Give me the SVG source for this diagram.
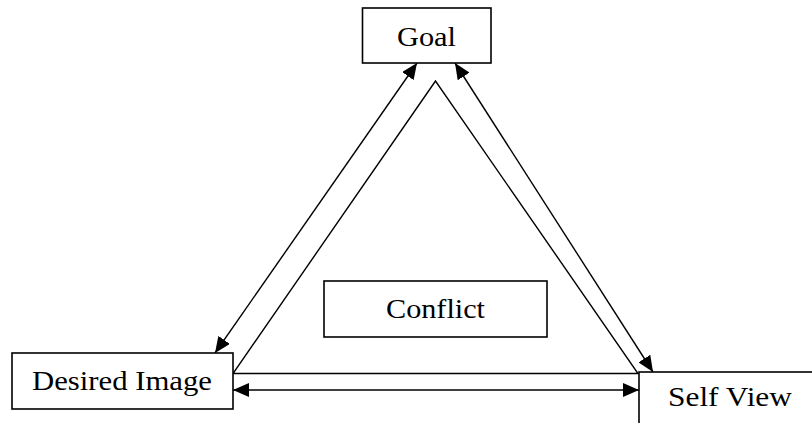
<svg xmlns="http://www.w3.org/2000/svg" width="812" height="423" viewBox="0 0 812 423">
  <defs>
    <marker id="ah" markerUnits="userSpaceOnUse" markerWidth="17" markerHeight="14" refX="16" refY="7" orient="auto-start-reverse">
      <path d="M0,0 L16,7 L0,14 z" fill="#000"/>
    </marker>
    <style>
      .box { fill: #fff; stroke: #000; stroke-width: 1.6; }
      .lbl { font-family: "Liberation Serif", "Times New Roman", serif; font-size: 28px; fill: #000; text-anchor: middle; }
      .ln { stroke: #000; stroke-width: 1.4; fill: none; }
      .arr { stroke: #000; stroke-width: 1.4; fill: none; marker-start: url(#ah); marker-end: url(#ah); }
    </style>
  </defs>
  <rect width="812" height="423" fill="#fff"/>
  <g id="connectors">
    <polygon class="ln" points="435.5,81 233,373.5 638,373.5"/>
    <line class="arr" x1="417" y1="63" x2="215" y2="353"/>
    <line class="arr" x1="455" y1="63" x2="653" y2="372"/>
    <line class="arr" x1="233" y1="390" x2="639" y2="390"/>
  </g>
  <g id="goal">
    <rect class="box" x="362.5" y="8" width="128.5" height="55"/>
    <text class="lbl" x="426.5" y="46" textLength="59" lengthAdjust="spacingAndGlyphs">Goal</text>
  </g>
  <g id="conflict">
    <rect class="box" x="324" y="281" width="223" height="56"/>
    <text class="lbl" x="435.5" y="318" textLength="99" lengthAdjust="spacingAndGlyphs">Conflict</text>
  </g>
  <g id="desired-image">
    <rect class="box" x="12" y="353" width="221" height="56"/>
    <text class="lbl" x="122" y="390" textLength="180" lengthAdjust="spacingAndGlyphs">Desired Image</text>
  </g>
  <g id="self-view">
    <rect class="box" x="639" y="372" width="190" height="60"/>
    <text class="lbl" x="730" y="406" textLength="124" lengthAdjust="spacingAndGlyphs">Self View</text>
  </g>
</svg>
